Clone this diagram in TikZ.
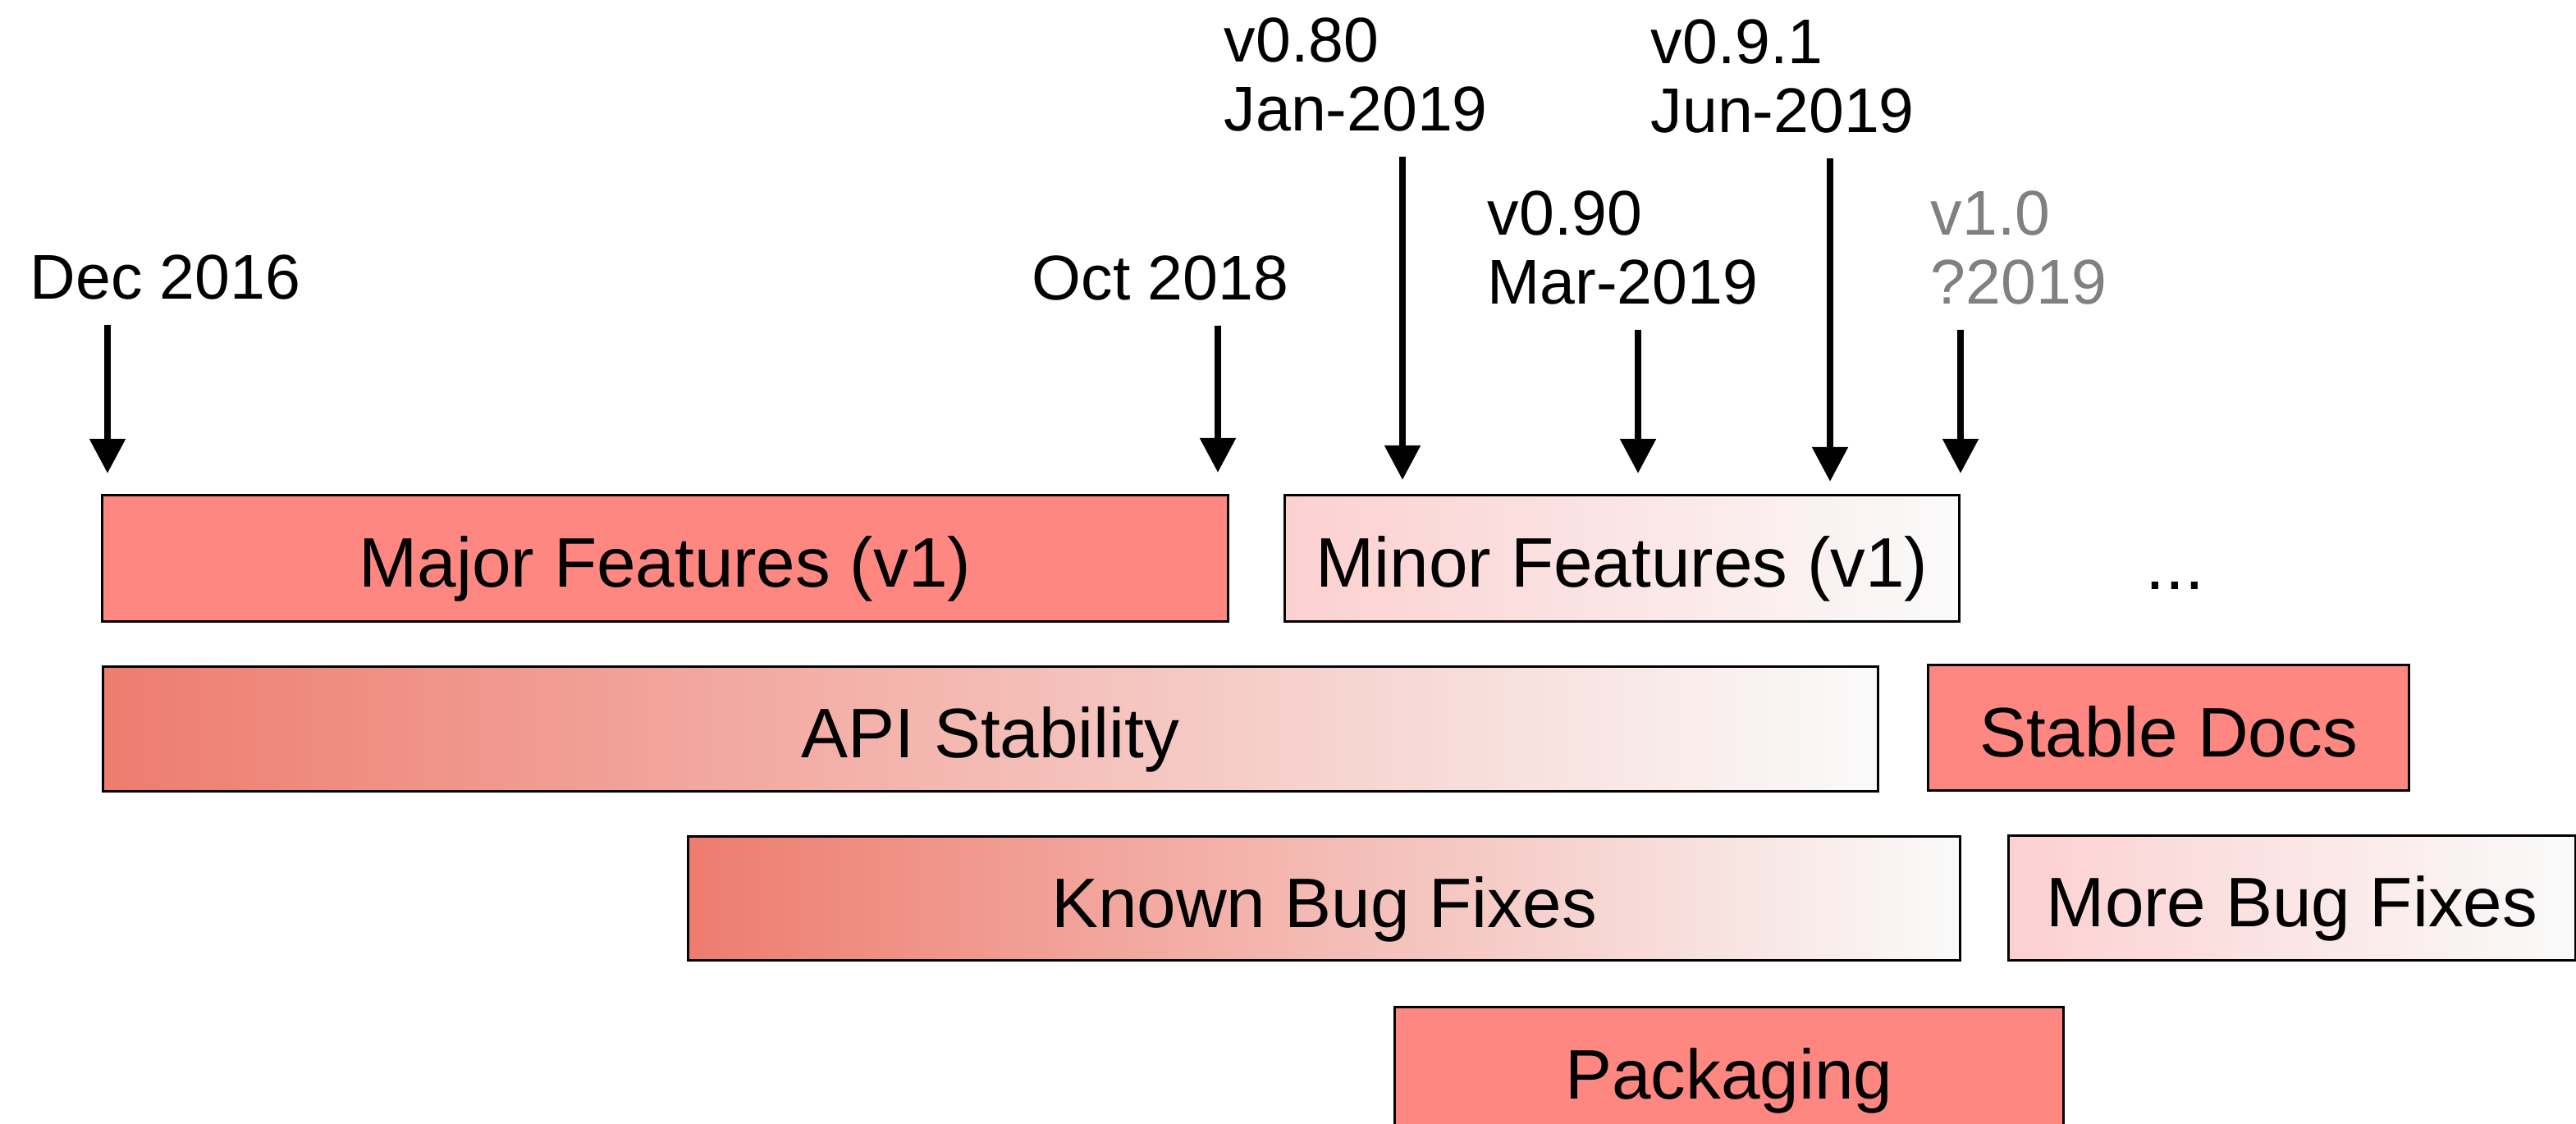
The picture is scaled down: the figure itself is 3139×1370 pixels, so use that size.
\documentclass[tikz,border=0pt]{standalone}
\usepackage{fontspec}
\setmainfont{Liberation Sans}
\usetikzlibrary{arrows.meta,positioning}

\definecolor{solidred}{RGB}{255,135,130}
\definecolor{darkred}{RGB}{238,124,111}
\definecolor{lightred}{RGB}{252,208,208}
\definecolor{offwhite}{RGB}{250,250,250}
\definecolor{futuregray}{RGB}{128,128,128}

\tikzset{
  datelabel/.style={anchor=base west, inner sep=0pt, align=left, font=\fontsize{21.9pt}{24.1pt}\selectfont},
  milestone/.style={line width=2.3pt, -{Triangle[length=0.42cm,width=0.42cm]}, shorten <=0.3cm},
  task/.style={draw, line width=0.85pt, anchor=north west, inner sep=0pt, text height=0.7cm, text depth=0cm, font=\fontsize{24.3pt}{28pt}\selectfont},
  solidtask/.style={task, fill=solidred},
  fadetask/.style={task, left color=darkred, right color=offwhite},
  paletask/.style={task, left color=lightred, right color=offwhite},
}

\begin{document}
\begin{tikzpicture}[x=0.01cm, y=-0.01cm]
  \useasboundingbox (0,0) rectangle (3139,1370);

  %tasks
  \foreach \x/\y/\w/\h/\kind/\txt/\name in {123/602/1372/154/solidtask/Major Features (v1)/major,
      1564/602/822/154/paletask/Minor Features (v1)/minor,
      124/811/2163/152/fadetask/API Stability/api,
      2348/809/586/153/solidtask/Stable Docs/docs,
      837/1018/1550/151/fadetask/Known Bug Fixes/known,
      2446/1017/691/152/paletask/More Bug Fixes/morefix,
      1698/1226/815/153/solidtask/Packaging/pack}{
    \node[\kind, minimum width=\w*0.01cm, minimum height=\h*0.01cm] (\name) at (\x,\y) {\txt};
  }
  \node[datelabel, font=\fontsize{24.3pt}{28pt}\selectfont] (etc) at (2614,718) {...};

  %dates (base = last line)
  \foreach \x/\y/\txt/\name in {36/365/Dec 2016/dec, 1257/366/Oct 2018/oct,
      1491/160/v0.80\\Jan-2019/jan, 1812/371/v0.90\\Mar-2019/mar, 2011/162/v0.9.1\\Jun-2019/jun}{
    \node[datelabel] (\name) at (\x,\y) {\txt};
  }
  \node[datelabel, text=futuregray] (ver) at (2352,371) {v1.0\\?2019};

  %milestones
  \foreach \lbl/\xx/\yy in {dec/131/577, oct/1484/576, jan/1709/585, mar/1996/577, jun/2230/587, ver/2389/577}{
    \coordinate (\lbl tip) at (\xx,\yy);
    \draw[milestone] (\lbl.south -| \lbl tip) -- (\lbl tip);
  }
\end{tikzpicture}
\end{document}
